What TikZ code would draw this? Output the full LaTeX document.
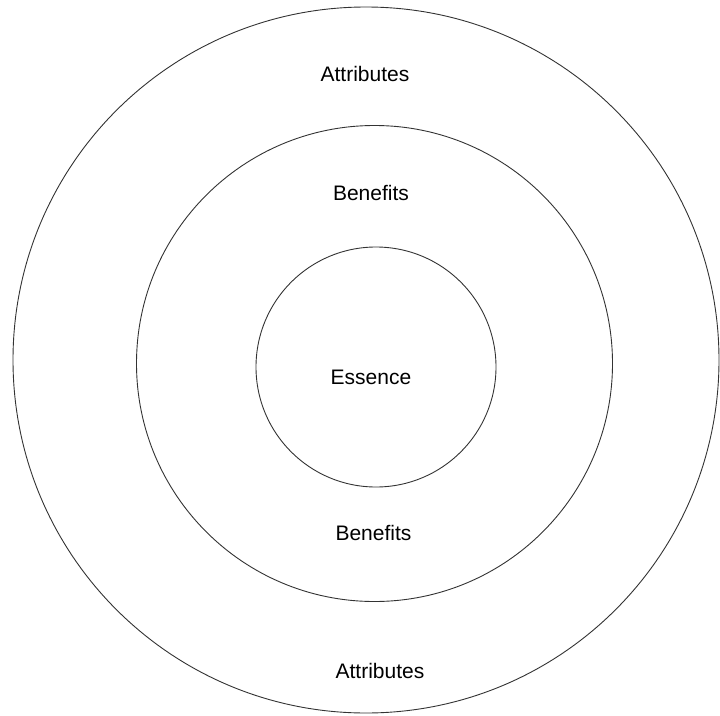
\documentclass[tikz,border=0pt]{standalone}
\usepackage{fontspec}
\setmainfont{Liberation Sans}
\begin{document}
\begin{tikzpicture}[x=1pt,y=-1pt,
  ring/.style={draw=black!80,line width=0.9pt},
  lbl/.style={font=\fontsize{21}{25}\selectfont,text=black,inner sep=0pt}]
\useasboundingbox (0,0) rectangle (720,715);
\draw[ring] (366,360) circle[radius=353];
\draw[ring] (374.5,363.5) circle[radius=238];
\draw[ring] (376,367) circle[radius=120];
\node[lbl] (attrtop) at (365,74) {Attributes};
\node[lbl] (bentop) at (371,193) {Benefits};
\node[lbl] (ess) at (371,377) {Essence};
\node[lbl] (benbot) at (373.5,533) {Benefits};
\node[lbl] (attrbot) at (380,671) {Attributes};
\end{tikzpicture}
\end{document}
